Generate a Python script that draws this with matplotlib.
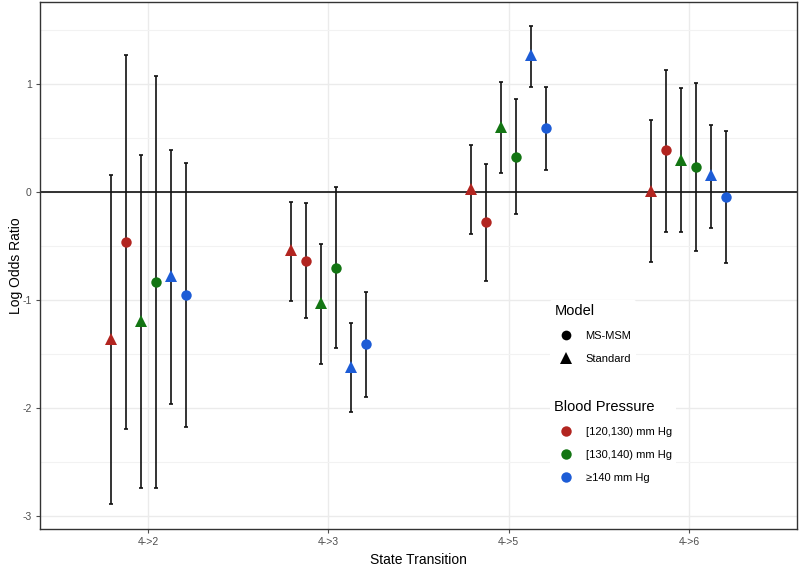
import matplotlib
matplotlib.use("Agg")
import matplotlib.pyplot as plt
from matplotlib.lines import Line2D
import numpy as np

plt.rcParams['font.family'] = ['Liberation Sans', 'DejaVu Sans']

categories = ["4->2", "4->3", "4->5", "4->6"]

bp_labels = ["[120,130) mm Hg", "[130,140) mm Hg", "\u2265140 mm Hg"]
bp_colors = ["#B22520", "#137513", "#1D5CD6"]
model_labels = ["MS-MSM", "Standard"]

# Estimates (log odds ratio) and 95% interval bounds, per category
red_std = [-1.36, -0.54, 0.03, 0.01]
red_std_lo = [-2.89, -1.01, -0.39, -0.65]
red_std_hi = [0.157, -0.09, 0.437, 0.667]
red_ms = [-0.46, -0.64, -0.28, 0.385]
red_ms_lo = [-2.19, -1.17, -0.82, -0.367]
red_ms_hi = [1.267, -0.10, 0.26, 1.127]
green_std = [-1.19, -1.03, 0.60, 0.30]
green_std_lo = [-2.74, -1.59, 0.18, -0.367]
green_std_hi = [0.347, -0.48, 1.015, 0.96]
green_ms = [-0.837, -0.70, 0.326, 0.233]
green_ms_lo = [-2.737, -1.44, -0.20, -0.546]
green_ms_hi = [1.073, 0.046, 0.86, 1.006]
blue_std = [-0.777, -1.62, 1.27, 0.155]
blue_std_lo = [-1.96, -2.04, 0.97, -0.33]
blue_std_hi = [0.39, -1.215, 1.54, 0.62]
blue_ms = [-0.953, -1.41, 0.59, -0.05]
blue_ms_lo = [-2.177, -1.895, 0.206, -0.66]
blue_ms_hi = [0.267, -0.926, 0.97, 0.567]

series = [
    (0, "Standard", red_std, red_std_lo, red_std_hi),
    (0, "MS-MSM", red_ms, red_ms_lo, red_ms_hi),
    (1, "Standard", green_std, green_std_lo, green_std_hi),
    (1, "MS-MSM", green_ms, green_ms_lo, green_ms_hi),
    (2, "Standard", blue_std, blue_std_lo, blue_std_hi),
    (2, "MS-MSM", blue_ms, blue_ms_lo, blue_ms_hi),
]

fig = plt.figure(figsize=(8, 5.68), dpi=100)
ax = fig.add_axes([40/800, 39/568, 757/800, 527/568])

x = np.arange(1, len(categories) + 1)
dodge = 0.5
n = len(series)
step = dodge / n
for i, (ci, model, est, lo, hi) in enumerate(series):
    off = -dodge/2 + step/2 + i*step
    xs = x + off
    est = np.array(est); lo = np.array(lo); hi = np.array(hi)
    ax.errorbar(xs, est, yerr=[est - lo, hi - est], fmt='none', ecolor='#111111',
                elinewidth=1.2, capsize=1.5, capthick=1.2, zorder=3)
    mk = 'o' if model == "MS-MSM" else '^'
    ms = 7.5 if mk == 'o' else 8.5
    ax.plot(xs, est, linestyle='none', marker=mk, markersize=ms,
            color=bp_colors[ci], markeredgewidth=0, zorder=4)

ax.axhline(0, color='#222222', linewidth=1.3, zorder=2)

ax.set_xlim(0.4, 4.6)
ax.set_ylim(-3.12, 1.76)
ax.set_xticks(x)
ax.set_xticklabels(categories)
ax.set_yticks([-3, -2, -1, 0, 1])
ax.set_yticklabels(["-3", "-2", "-1", "0", "1"])
ax.set_yticks([-2.5, -1.5, -0.5, 0.5, 1.5], minor=True)
ax.grid(True, which='major', color='#EBEBEB', linewidth=1.0, zorder=0)
ax.grid(True, which='minor', axis='y', color='#F2F2F2', linewidth=0.8, zorder=0)
ax.set_axisbelow(True)
ax.tick_params(axis='both', which='major', labelsize=7.5, colors='#4D4D4D',
               length=3, width=0.8, pad=3)
ax.tick_params(axis='both', which='minor', length=0)
for s in ax.spines.values():
    s.set_color('#333333')
    s.set_linewidth(1.0)

ax.set_xlabel("State Transition", fontsize=10, labelpad=4)
ax.set_ylabel("Log Odds Ratio", fontsize=10)
ax.yaxis.set_label_coords(-0.0225, 0.5)

model_handles = [
    Line2D([], [], linestyle='none', marker='o', color='black', markersize=7, markeredgewidth=0),
    Line2D([], [], linestyle='none', marker='^', color='black', markersize=8, markeredgewidth=0),
]
bp_handles = [Line2D([], [], linestyle='none', marker='o', color=c, markersize=7.5, markeredgewidth=0)
              for c in bp_colors]

common = dict(loc='upper left', bbox_transform=fig.transFigure, frameon=True,
              fontsize=8, title_fontsize=10.5, handletextpad=0.8, labelspacing=1.15,
              handlelength=2.0, borderpad=0.4, borderaxespad=0)

leg1 = ax.legend(model_handles, model_labels, title="Model",
                 bbox_to_anchor=(550/800, 1 - 300/568), **common)
leg1._legend_box.align = "left"
leg1.get_frame().set_facecolor('white')
leg1.get_frame().set_edgecolor('none')
leg1.get_frame().set_alpha(1)
ax.add_artist(leg1)

leg2 = ax.legend(bp_handles, bp_labels, title="Blood Pressure",
                 bbox_to_anchor=(550/800, 1 - 396/568), **common)
leg2._legend_box.align = "left"
leg2.get_frame().set_facecolor('white')
leg2.get_frame().set_edgecolor('none')
leg2.get_frame().set_alpha(1)

fig.savefig("out.png", dpi=100)
